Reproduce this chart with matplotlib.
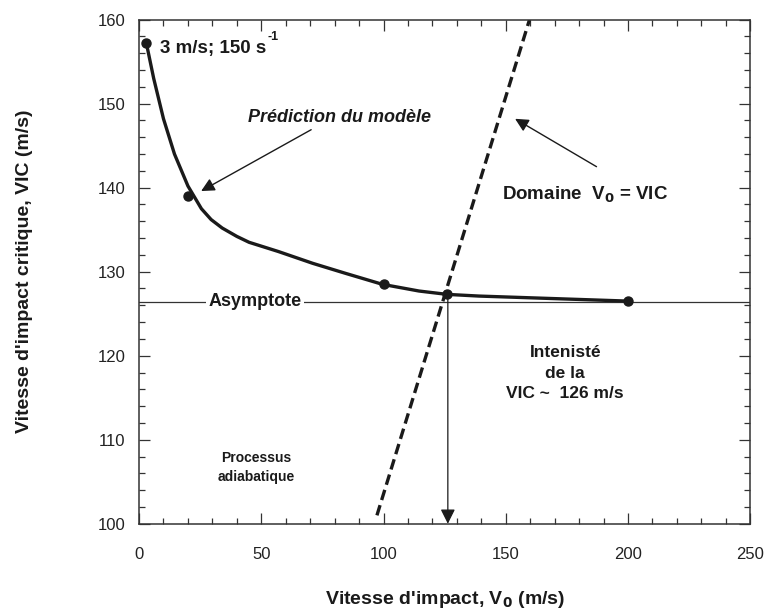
import matplotlib
matplotlib.use("Agg")
import matplotlib.pyplot as plt
from matplotlib.ticker import MultipleLocator

plt.rcParams['font.family'] = ['Liberation Sans', 'DejaVu Sans']

# model curve (V0, VIC)
curve_v0 = [3, 6, 10, 14.5, 20, 25.5, 29.5, 34, 40, 45, 57, 65, 71, 84.5, 99.5,
            114.5, 126, 139, 200]
curve_vic = [157.2, 153.0, 148.2, 144.0, 140.2, 137.5, 136.2, 135.2, 134.2, 133.5,
             132.4, 131.6, 131.0, 129.8, 128.5, 127.7, 127.3, 127.1, 126.5]

# computed points
pts_v0 = [3, 20, 100, 126, 200]
pts_vic = [157.2, 139.0, 128.5, 127.3, 126.5]

asymptote = 126.45
vic_cross = 126.3
# domain V0 = VIC boundary (end points)
dom_v0 = [97.3, 159.7]
dom_vic = [101.0, 160.0]

ink = '#1a1a1a'

fig = plt.figure(figsize=(7.66, 6.14), dpi=100)
ax = fig.add_axes([0.1815, 0.147, 0.798, 0.821])

ax.axhline(asymptote, color='#333333', lw=0.9, zorder=1)
ax.plot(curve_v0, curve_vic, color=ink, lw=2.4, zorder=3,
        solid_joinstyle='round', solid_capstyle='round')
ax.plot(pts_v0, pts_vic, 'o', color=ink, ms=6.5, zorder=4)
ax.plot(dom_v0, dom_vic, color=ink, lw=2.4, linestyle=(0, (3.2, 1.6)), zorder=2)

# vertical arrow down to the x axis
ax.annotate('', xy=(vic_cross, 100), xytext=(vic_cross, pts_vic[3]),
            arrowprops=dict(arrowstyle='-|>', color=ink, lw=0.9,
                            mutation_scale=22, shrinkA=0, shrinkB=0))

ax.text(47.5, asymptote, 'Asymptote', fontsize=13, fontweight='bold', color=ink,
        ha='center', va='center', zorder=5,
        bbox=dict(facecolor='white', edgecolor='none', pad=1.5))

t = ax.text(8.5, 156.6, '3 m/s; 150 s', fontsize=13.5, fontweight='bold',
            color=ink, ha='left', va='center')
ax.annotate('-1', xy=(1, 0.8), xycoords=t, xytext=(1, 0), textcoords='offset points',
            fontsize=9, fontweight='bold', color=ink, ha='left', va='bottom')

ax.text(44.5, 148.3, 'Prédiction du modèle', fontsize=13, fontweight='bold',
        fontstyle='italic', color=ink, ha='left', va='center')
ax.annotate('', xy=(25.4, 139.6), xytext=(70.4, 146.9),
            arrowprops=dict(arrowstyle='-|>', color=ink, lw=1.0,
                            mutation_scale=20, shrinkA=0, shrinkB=0))

ax.text(148.3, 139.1, 'Domaine  V$_\\mathbf{0}$ = VIC', fontsize=13.5, fontweight='bold',
        color=ink, ha='left', va='center')
ax.annotate('', xy=(153.8, 148.2), xytext=(187.1, 142.5),
            arrowprops=dict(arrowstyle='-|>', color=ink, lw=1.0,
                            mutation_scale=20, shrinkA=0, shrinkB=0))

ax.text(174.3, 117.9, 'Intenisté\nde la\nVIC ~  126 m/s', fontsize=12.5,
        fontweight='bold', color=ink, ha='center', va='center', linespacing=1.45)

ax.text(48, 106.7, 'Processus\nadiabatique', fontsize=10, fontweight='bold',
        color=ink, ha='center', va='center', linespacing=1.5)

ax.set_xlim(0, 250)
ax.set_ylim(100, 160)
ax.xaxis.set_major_locator(MultipleLocator(50))
ax.xaxis.set_minor_locator(MultipleLocator(10))
ax.yaxis.set_major_locator(MultipleLocator(10))
ax.yaxis.set_minor_locator(MultipleLocator(2))
ax.tick_params(which='both', direction='in', top=True, right=True,
               colors='#333333', labelcolor='#222222', width=0.9)
ax.tick_params(which='major', length=8, labelsize=12)
ax.tick_params(which='minor', length=4.5)
ax.tick_params(axis='x', which='major', pad=17)
ax.tick_params(axis='y', which='major', pad=10)
for s in ax.spines.values():
    s.set_linewidth(1.1)
    s.set_color('#333333')

ax.set_xlabel("Vitesse d'impact, V$_\\mathbf{0}$ (m/s)", fontsize=14, fontweight='bold',
              color=ink, labelpad=19)
ax.set_ylabel("Vitesse d'impact critique, VIC (m/s)", fontsize=14, fontweight='bold',
              color=ink, labelpad=46)

fig.savefig('out.png', dpi=100)
